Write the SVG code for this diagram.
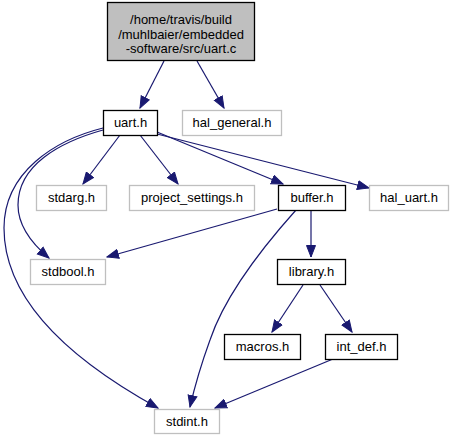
<svg xmlns="http://www.w3.org/2000/svg" width="453" height="440" viewBox="0 0 453 440">
<style>
text{font-family:"Liberation Sans",Arial,sans-serif;font-size:13px;fill:#000;text-anchor:middle}
.blk{fill:#fff;stroke:#000;stroke-width:1.3}
.gry{fill:#fff;stroke:#bfbfbf;stroke-width:1.3}
.root{fill:#bfbfbf;stroke:#000;stroke-width:1.3}
.e{fill:none;stroke:#191970;stroke-width:1.2;marker-end:url(#ah)}
</style>
<defs>
<marker id="ah" markerUnits="userSpaceOnUse" markerWidth="13" markerHeight="11" refX="12" refY="5.5" orient="auto">
<path d="M0.5,1 L12,5.5 L0.5,10 Z" fill="#191970" stroke="#191970"/>
</marker>
</defs>
<g id="edges">
<path class="e" d="M164,61 L140,108"/>
<path class="e" d="M197,61 L224,108"/>
<path class="e" d="M120,135 L83,184"/>
<path class="e" d="M140,135 L178,184"/>
<path class="e" d="M157,132 L283,184"/>
<path class="e" d="M157,134 L369,188"/>
<path class="e" d="M103,130 C60,142 18,165 18,205 C18,225 30,242 49,258"/>
<path class="e" d="M103,128 C55,140 4,172 4,228 C4,305 80,365 158,408"/>
<path class="e" d="M277,209 L107,257"/>
<path class="e" d="M296,210 C262,248 225,295 210,340 C202,362 195,385 190,407"/>
<path class="e" d="M311,210 L311,257"/>
<path class="e" d="M303,285 L272,332"/>
<path class="e" d="M320,285 L352,332"/>
<path class="e" d="M333,359 L215,408"/>
</g>
<g id="root"><rect class="root" x="107.5" y="2.5" width="147" height="58"/><text x="181" y="24">/home/travis/build</text><text x="181" y="38.5">/muhlbaier/embedded</text><text x="181" y="53">-software/src/uart.c</text></g>
<g id="uart_h"><rect class="blk" x="103.5" y="110.5" width="54" height="25"/><text x="130.5" y="127">uart.h</text></g>
<g id="hal_general_h"><rect class="gry" x="182.5" y="110.5" width="99" height="25"/><text x="232" y="127">hal_general.h</text></g>
<g id="stdarg_h"><rect class="gry" x="36.5" y="185.5" width="70" height="25"/><text x="71.5" y="202">stdarg.h</text></g>
<g id="project_settings_h"><rect class="gry" x="129.5" y="185.5" width="125" height="25"/><text x="192" y="202">project_settings.h</text></g>
<g id="buffer_h"><rect class="blk" x="278.5" y="185.5" width="67" height="25"/><text x="312" y="202">buffer.h</text></g>
<g id="hal_uart_h"><rect class="gry" x="369.5" y="185.5" width="79" height="25"/><text x="409" y="202">hal_uart.h</text></g>
<g id="stdbool_h"><rect class="gry" x="30.5" y="259.5" width="75" height="25"/><text x="68" y="276">stdbool.h</text></g>
<g id="library_h"><rect class="blk" x="277.5" y="259.5" width="68" height="25"/><text x="311.5" y="276">library.h</text></g>
<g id="macros_h"><rect class="blk" x="224.5" y="334.5" width="76" height="25"/><text x="262.5" y="351">macros.h</text></g>
<g id="int_def_h"><rect class="blk" x="325.5" y="334.5" width="72" height="25"/><text x="361.5" y="351">int_def.h</text></g>
<g id="stdint_h"><rect class="gry" x="154.5" y="409.5" width="65" height="24"/><text x="187" y="426">stdint.h</text></g>
</svg>
